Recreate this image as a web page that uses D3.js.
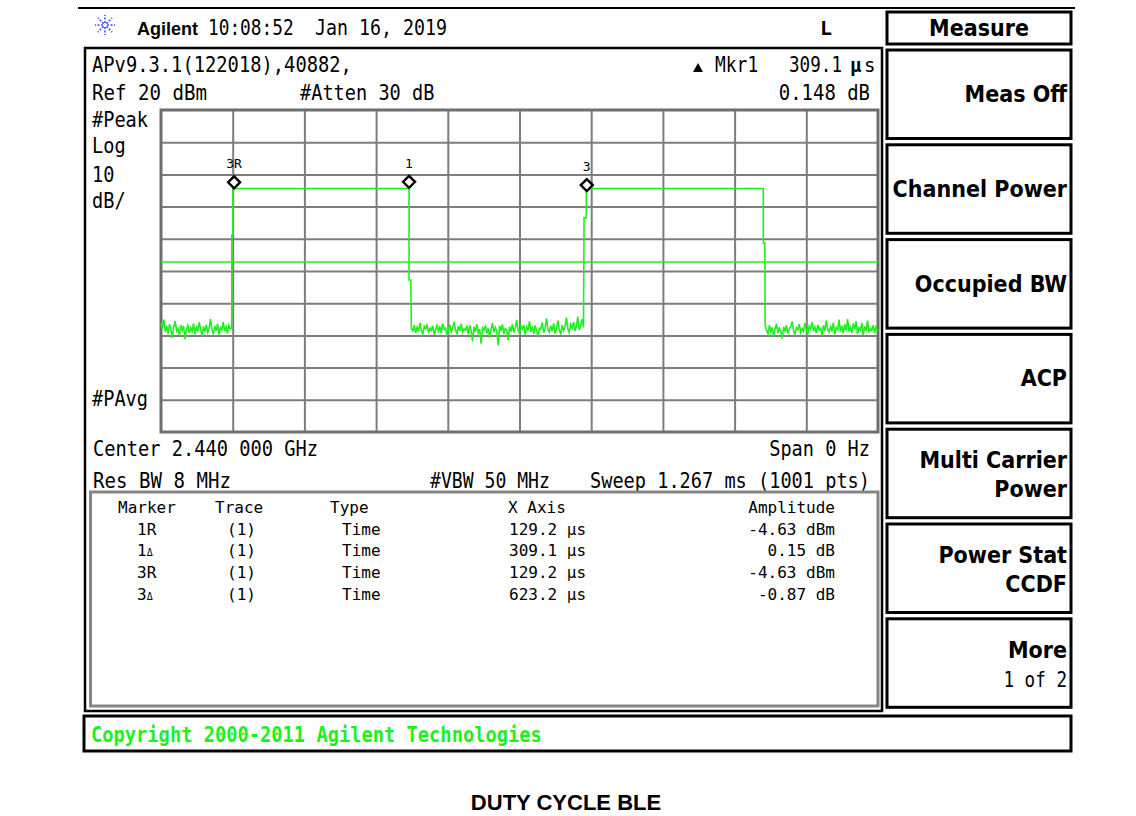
<!DOCTYPE html>
<html>
<head>
<meta charset="utf-8">
<script src="https://cdn.jsdelivr.net/npm/d3@7"></script>
<style>
  body { margin: 0; background: #fff; }
  svg { display: block; }
</style>
</head>
<body>
<svg id="scr" width="1136" height="816"></svg>
<script>
// sweep settings (zero span, time domain)
const sweepUs = 1267;
const refLevel = 20, dbPerDiv = 10, divs = 10;
const displayLine = -27.2;

// noise floor samples between the bursts (dBm)
const noiseA = [-46.2,-47.8,-45.1,-48.9,-47.0,-49.6,-46.5,-48.2,-50.8,-47.3,-45.6,-48.7,-47.9,-49.9,-46.8,-48.4,-47.1,-51.2,-48.0,-46.9,
  -49.3,-47.6,-48.8,-46.3,-49.7,-47.4,-48.5,-45.9,-48.1,-50.2,-47.2,-48.9,-46.7,-49.1,-47.8,-44.9,-48.3,-49.5,-47.0,-48.6,
  -46.4,-49.8,-47.5,-48.2,-45.8,-48.7,-47.3,-49.4,-46.9,-48.1,-47.7];
const noiseB = [-47.9,-48.6,-46.8,-49.2,-47.5,-48.8,-46.1,-48.4,-49.6,-47.2,-48.0,-46.6,-49.1,-47.8,-48.5,-47.0,-49.8,-48.2,-46.9,-48.7,
  -47.4,-49.3,-46.3,-48.1,-47.7,-50.1,-48.3,-46.7,-48.9,-47.6,-45.8,-48.2,-49.5,-47.1,-48.6,-46.4,-49.0,-47.9,-48.4,-47.2,
  -49.7,-46.8,-48.5,-51.8,-47.3,-48.9,-46.5,-49.2,-48.0,-52.6,-47.6,-48.3,-46.9,-49.4,-47.8,-50.6,-48.1,-46.2,-49.0,-47.5,
  -48.7,-53.1,-47.0,-48.4,-46.6,-49.6,-47.9,-48.2,-51.4,-47.3,-48.8,-46.4,-49.1,-47.7,-45.2,-48.5,-49.3,-47.1,-48.0,-46.7,
  -49.8,-47.4,-48.6,-45.6,-48.9,-47.2,-49.5,-46.9,-48.3,-50.4,-47.8,-48.1,-46.0,-49.2,-47.6,-44.7,-48.4,-49.0,-47.0,-48.7,
  -46.3,-49.4,-47.9,-45.4,-48.2,-49.7,-46.8,-48.5,-47.3,-44.5,-48.0,-49.1,-46.5,-47.7,-45.9,-48.6,-47.1,-44.2,-48.3,-46.9,
  -45.0,-47.5];
const noiseC = [-47.0,-48.4,-49.6,-46.8,-48.9,-47.5,-50.3,-48.1,-46.4,-49.2,-47.8,-48.6,-51.0,-47.3,-48.7,-46.9,-49.4,-48.0,-47.2,-45.7,
  -48.5,-49.8,-47.6,-48.2,-46.5,-49.1,-47.9,-48.8,-46.2,-48.4,-49.5,-47.1,-48.0,-45.9,-48.7,-47.4,-49.3,-46.7,-48.3,-47.8,
  -50.1,-46.9,-48.6,-45.3,-48.1,-49.0,-47.3,-48.5,-46.0,-49.7,-47.6,-48.2,-45.1,-48.9,-47.0,-49.4,-46.6,-48.4,-44.9,-48.8,
  -47.5,-49.2,-46.3,-48.0,-45.6,-49.6,-47.7,-48.3,-46.1,-49.9,-47.2,-48.6,-45.4,-49.1,-47.9,-48.5,-46.8,-49.3,-47.4,-48.7];
// time span of each noise stretch (us)
const noiseSpans = [[0, 125.0], [442.5, 746.6], [1067.6, 1266]];
// burst edges and tops: [time us, dBm]
const burst1 = [[125.2,-18.8],[127.0,-18.8],[127.0,-4.4],[438.3,-4.4],[438.3,-32.8],[441.3,-32.8]];
const burst2 = [[747.6,-13.5],[751.6,-13.5],[751.6,-4.4],[1064.3,-4.4],[1064.3,-21.3],[1067.0,-21.3]];

// markers
const mkNames = ['3R', '1', '3'];
const mkTimes = [129.2, 438.3, 752.4];
const mkAmps = [-4.63, -4.48, -5.50];

// marker table
const tblMarker = ['1R', '1Δ', '3R', '3Δ'];
const tblTrace = ['(1)', '(1)', '(1)', '(1)'];
const tblType = ['Time', 'Time', 'Time', 'Time'];
const tblX = ['129.2 μs', '309.1 μs', '129.2 μs', '623.2 μs'];
const tblAmp = ['-4.63 dBm', '0.15 dB', '-4.63 dBm', '-0.87 dB'];

// softkeys
const menuTitle = 'Measure';
const softkeys = [['Meas Off'], ['Channel Power'], ['Occupied BW'], ['ACP'], ['Multi Carrier', 'Power'], ['Power Stat', 'CCDF'], ['More', '1 of 2']];

const mono = '"DejaVu Sans Mono", "Liberation Mono", monospace';
const sans = '"Liberation Sans", Arial, sans-serif';
const keyFont = '"DejaVu Sans Condensed", "DejaVu Sans", sans-serif';
const green = '#1ef01e';

let svg = d3.select('#scr');

function txt(x, y, s, o) {
  o = o || {};
  let t = svg.append('text')
    .attr('x', x).attr('y', y)
    .attr('font-family', o.fam || mono)
    .attr('font-size', o.size || 21)
    .attr('font-weight', o.bold ? 'bold' : null)
    .attr('text-anchor', o.anchor || 'start')
    .attr('fill', o.fill || '#000')
    .text(s);
  if (o.cw) t.attr('textLength', s.length * o.cw).attr('lengthAdjust', 'spacingAndGlyphs');
  if (o.stretch) t.attr('font-stretch', o.stretch);
  return t;
}

function box(x0, y0, x1, y1, stroke, w) {
  svg.append('rect').attr('x', x0).attr('y', y0).attr('width', x1 - x0).attr('height', y1 - y0)
    .attr('fill', 'none').attr('stroke', stroke).attr('stroke-width', w);
}

// page top rule
svg.append('line').attr('x1', 78).attr('x2', 1075).attr('y1', 8).attr('y2', 8).attr('stroke', '#000').attr('stroke-width', 2);

// logo
let logo = svg.append('g').attr('transform', 'translate(105,25)');
d3.range(0, 360, 45).forEach(function(a) {
  let r = a * Math.PI / 180;
  logo.append('line').attr('x1', 2 * Math.cos(r)).attr('y1', 2 * Math.sin(r))
    .attr('x2', 10 * Math.cos(r)).attr('y2', 10 * Math.sin(r))
    .attr('stroke', '#3a4cf0').attr('stroke-width', 1.6).attr('stroke-dasharray', '2,1.5');
});

txt(137, 35, 'Agilent', {fam: sans, size: 18, bold: true});
txt(208, 35, '10:08:52', {cw: 10.7});
txt(315, 35, 'Jan 16, 2019', {cw: 11.0});
txt(820, 35, 'L', {bold: true, size: 20});

// main screen frame
box(85, 48, 882, 711, '#000', 2.5);

// header lines
txt(92, 72, 'APv9.3.1(122018),40882,', {cw: 11.3});
svg.append('path').attr('d', 'M693,72 L703,72 L698,63 Z').attr('fill', '#000');
txt(715, 72, 'Mkr1', {cw: 10.8});
txt(789, 72, '309.1', {cw: 10.6});
txt(850, 72, 'μ', {bold: true, size: 19});
txt(864, 72, 's', {size: 19});
txt(92, 100, 'Ref 20 dBm', {cw: 11.5});
txt(300, 100, '#Atten 30 dB', {cw: 11.2});
txt(870, 100, '0.148 dB', {cw: 11.4, anchor: 'end'});
txt(92, 127, '#Peak', {cw: 11.2});
txt(92, 153, 'Log', {cw: 11.2});
txt(92, 182, '10', {cw: 11.2});
txt(92, 208, 'dB/', {cw: 11.2});
txt(92, 406, '#PAvg', {cw: 11.2});

// plot area
let x = d3.scaleLinear().domain([0, sweepUs]).range([161, 878]);
let y = d3.scaleLinear().domain([refLevel, refLevel - dbPerDiv * divs]).range([110, 432]);

let gridX = svg.append('g').attr('transform', 'translate(0,432)')
  .call(d3.axisBottom(x).tickValues(d3.range(1, divs).map(i => i * sweepUs / divs)).tickSize(-322).tickFormat(''));
let gridY = svg.append('g').attr('transform', 'translate(161,0)')
  .call(d3.axisLeft(y).tickValues(d3.range(1, divs).map(i => refLevel - i * dbPerDiv)).tickSize(-717).tickFormat(''));
[gridX, gridY].forEach(function(g) {
  g.select('.domain').remove();
  g.selectAll('line').attr('stroke', '#7d7d7d').attr('stroke-width', 2);
});
box(161, 110, 878, 432, '#6e6e6e', 3);

// display line
svg.append('line').attr('x1', x(0)).attr('x2', x(sweepUs)).attr('y1', y(displayLine)).attr('y2', y(displayLine))
  .attr('stroke', green).attr('stroke-width', 1.3);

// trace
function noisePts(vals, span) {
  let step = (span[1] - span[0]) / (vals.length - 1);
  return vals.map((v, i) => [span[0] + i * step, v]);
}
let trace = [].concat(
  noisePts(noiseA, noiseSpans[0]), burst1,
  noisePts(noiseB, noiseSpans[1]), burst2,
  noisePts(noiseC, noiseSpans[2])
);
let line = d3.line().x(d => x(d[0])).y(d => y(d[1]));
svg.append('path').datum(trace).attr('d', line)
  .attr('fill', 'none').attr('stroke', green).attr('stroke-width', 1.6);

// markers
mkNames.forEach(function(n, i) {
  let mx = x(mkTimes[i]), my = y(mkAmps[i]) - 7;
  svg.append('path').attr('d', `M${mx},${my - 6} L${mx + 6},${my} L${mx},${my + 6} L${mx - 6},${my} Z`)
    .attr('fill', '#fff').attr('stroke', '#000').attr('stroke-width', 2.4);
  txt(mx, my - 14, n, {size: 13, anchor: 'middle'});
});

// bottom annotation
txt(93, 456, 'Center 2.440 000 GHz', {cw: 11.25});
txt(870, 456, 'Span 0 Hz', {cw: 11.2, anchor: 'end'});
txt(93, 488, 'Res BW 8 MHz', {cw: 11.5});
txt(430, 488, '#VBW 50 MHz', {cw: 10.9});
txt(870, 488, 'Sweep 1.267 ms (1001 pts)', {cw: 11.2, anchor: 'end'});

// marker table
box(90.5, 492, 878, 706, '#858585', 3);
let hdrY = 513, rowH = 21.7;
txt(118, hdrY, 'Marker', {size: 16});
txt(215, hdrY, 'Trace', {size: 16});
txt(330, hdrY, 'Type', {size: 16});
txt(508, hdrY, 'X Axis', {size: 16});
txt(835, hdrY, 'Amplitude', {size: 16, anchor: 'end'});
tblMarker.forEach(function(m, i) {
  let ry = hdrY + (i + 1) * rowH;
  let t = txt(137, ry, m[0], {size: 16});
  t.append('tspan').attr('font-size', m[1] === 'Δ' ? 10 : 16).text(m[1]);
  txt(227, ry, tblTrace[i], {size: 16});
  txt(342, ry, tblType[i], {size: 16});
  txt(509, ry, tblX[i], {size: 16});
  txt(835, ry, tblAmp[i], {size: 16, anchor: 'end'});
});

// softkey column
box(887, 12, 1071, 44, '#000', 3);
txt(979, 36, menuTitle, {fam: keyFont, size: 23, bold: true, anchor: 'middle', stretch: 'condensed'});
softkeys.forEach(function(k, i) {
  let top = 50 + i * 94.8;
  box(887, top, 1071, top + 88.5, '#000', 3);
  if (k.length === 1) {
    txt(1067, top + 52, k[0], {fam: keyFont, size: 23, bold: true, anchor: 'end', stretch: 'condensed'});
  } else {
    txt(1067, top + 39, k[0], {fam: keyFont, size: 23, bold: true, anchor: 'end', stretch: 'condensed'});
    if (k[1] === '1 of 2') txt(1067, top + 68, k[1], {cw: 10.6, anchor: 'end'});
    else txt(1067, top + 68, k[1], {fam: keyFont, size: 23, bold: true, anchor: 'end', stretch: 'condensed'});
  }
});

// status line
box(84, 716, 1071, 751, '#000', 3);
txt(91, 742, 'Copyright 2000-2011 Agilent Technologies', {bold: true, fill: green, cw: 11.27});

// caption
txt(566, 810, 'DUTY CYCLE BLE', {fam: sans, size: 22, bold: true, anchor: 'middle'});
</script>
</body>
</html>
